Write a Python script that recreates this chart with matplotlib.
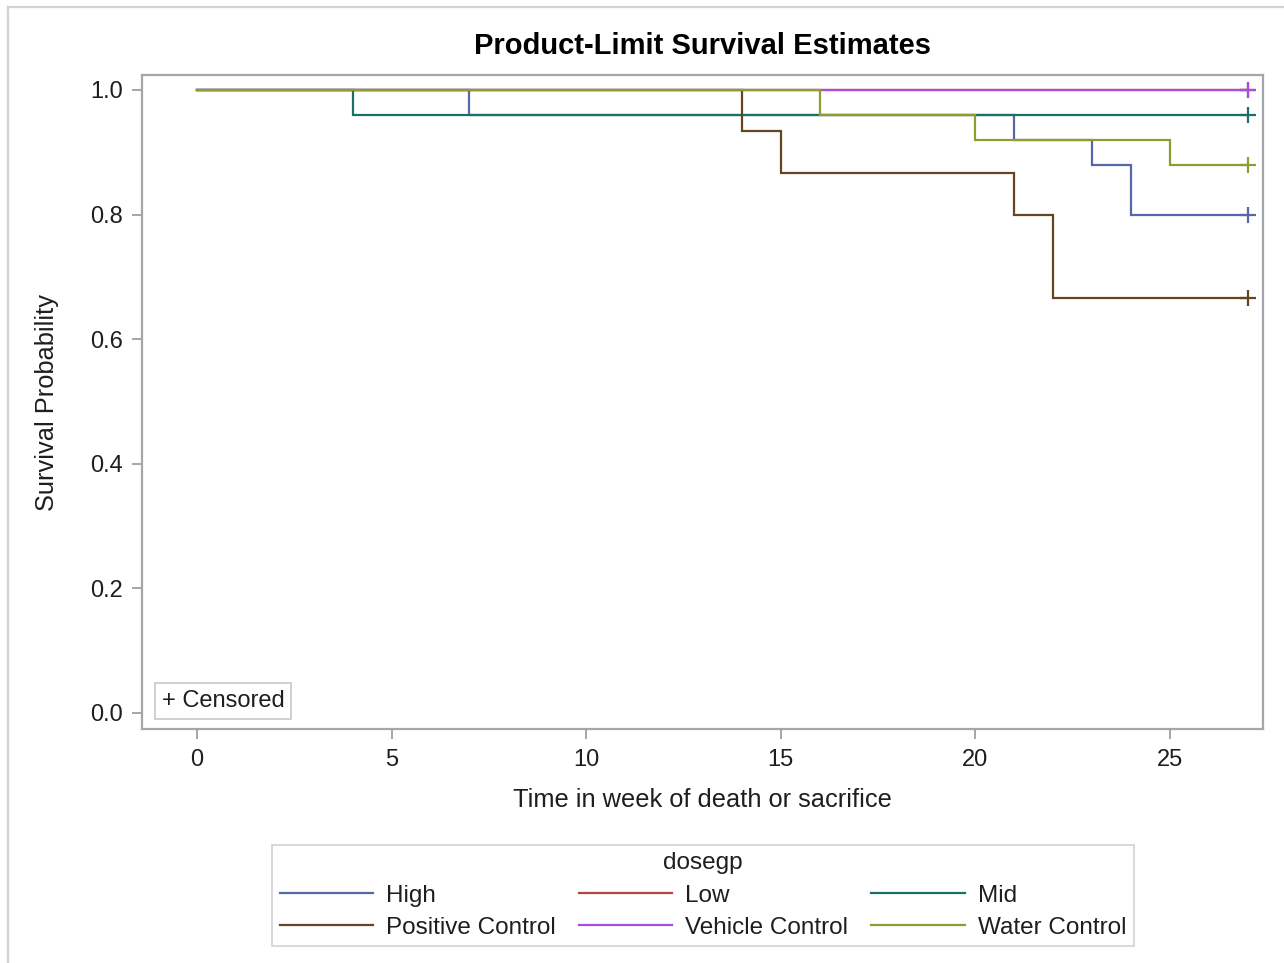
import matplotlib
matplotlib.use("Agg")
import matplotlib.pyplot as plt
from matplotlib.lines import Line2D

plt.rcParams["font.family"] = ["Liberation Sans", "DejaVu Sans"]

# Kaplan-Meier step data per dose group (time in weeks, survival probability)
groups = ["High", "Low", "Mid", "Positive Control", "Vehicle Control", "Water Control"]
colors = ["#5666A8", "#B0483C", "#1B6F64", "#65451F", "#A64DE0", "#8E9C30"]

high_t = [0, 7, 21, 23, 24, 27]
high_s = [1.0, 0.96, 0.92, 0.88, 0.80, 0.80]
low_t = [0, 27]
low_s = [1.0, 1.0]
mid_t = [0, 4, 27]
mid_s = [1.0, 0.96, 0.96]
pos_t = [0, 14, 15, 21, 22, 27]
pos_s = [1.0, 14 / 15, 13 / 15, 12 / 15, 10 / 15, 10 / 15]
veh_t = [0, 27]
veh_s = [1.0, 1.0]
wat_t = [0, 16, 20, 25, 27]
wat_s = [1.0, 0.96, 0.92, 0.88, 0.88]

times = [high_t, low_t, mid_t, pos_t, veh_t, wat_t]
survs = [high_s, low_s, mid_s, pos_s, veh_s, wat_s]

# censoring time (end of study) for every group
censor_time = 27

x_ticks = [0, 5, 10, 15, 20, 25]
y_ticks = [0.0, 0.2, 0.4, 0.6, 0.8, 1.0]

W, H = 1284, 963
fig = plt.figure(figsize=(W / 100, H / 100), dpi=100)
ax = fig.add_axes([142 / W, 1 - 729 / H, (1263 - 142) / W, (729 - 75) / H])

frame_col = "#A3A7AB"
text_col = "#1E1E1E"
fs_tick = 17
fs_label = 18.3
fs_leg = 17.5

handles = []
for name, col, t, s in zip(groups, colors, times, survs):
    ax.step(t, s, where="post", color=col, lw=1.6, solid_joinstyle="miter")
    ax.plot([censor_time], [s[-1]], marker="+", ms=11, mew=1.6, color=col, ls="none")
    handles.append(Line2D([0], [0], color=col, lw=1.6))

ax.set_xlim(-1.41, 27.39)
ax.set_ylim(-0.0257, 1.024)
ax.set_xticks(x_ticks)
ax.set_yticks(y_ticks)
ax.set_xticklabels([str(v) for v in x_ticks])
ax.set_yticklabels([f"{v:.1f}" for v in y_ticks])

for sp in ax.spines.values():
    sp.set_color(frame_col)
    sp.set_linewidth(1.6)
ax.tick_params(axis="both", direction="out", length=7.5, width=1.4, color=frame_col,
               labelsize=fs_tick, labelcolor=text_col)
ax.tick_params(axis="x", pad=7)
ax.tick_params(axis="y", pad=6)

ax.set_xlabel("Time in week of death or sacrifice", fontsize=fs_label, color=text_col)
ax.set_ylabel("Survival Probability", fontsize=fs_label, color=text_col)
ax.xaxis.set_label_coords(0.5, -0.090)
ax.yaxis.set_label_coords(-0.074, 0.5)

fig.text(703 / W, 1 - 46 / H, "Product-Limit Survival Estimates", ha="center",
         va="center", fontsize=21, fontweight="bold", color="black")

# censored marker key inside the plot area
ax.text(0.0175, 0.026, "+ Censored", transform=ax.transAxes, fontsize=fs_tick,
        color=text_col, ha="left", va="bottom",
        bbox=dict(boxstyle="square,pad=0.3", fc="white", ec="#CFCFCF", lw=1.4))

# legend laid out row-wise: High/Low/Mid then the three controls
order = [0, 3, 1, 4, 2, 5]
leg = fig.legend([handles[i] for i in order], [groups[i] for i in order],
                 title="dosegp", ncol=3, loc="upper center",
                 bbox_to_anchor=(703 / W, 1 - 845 / H), borderaxespad=0,
                 fontsize=fs_leg, title_fontsize=fs_leg, frameon=True, fancybox=False,
                 handlelength=3.85, handletextpad=0.53, columnspacing=0.95,
                 labelspacing=0.42, borderpad=0.3)
leg.get_frame().set_edgecolor("#CFCFCF")
leg.get_frame().set_linewidth(1.4)
leg.get_title().set_color(text_col)
for txt in leg.get_texts():
    txt.set_color(text_col)

# outer page border (left and top edges)
fig.add_artist(Line2D([8 / W, 8 / W], [0, 1 - 7 / H], transform=fig.transFigure,
                      color="#D2D2D2", lw=1.6))
fig.add_artist(Line2D([8 / W, 1], [1 - 7 / H, 1 - 7 / H], transform=fig.transFigure,
                      color="#D2D2D2", lw=1.6))

fig.savefig("out.png", dpi=100, facecolor="white")
